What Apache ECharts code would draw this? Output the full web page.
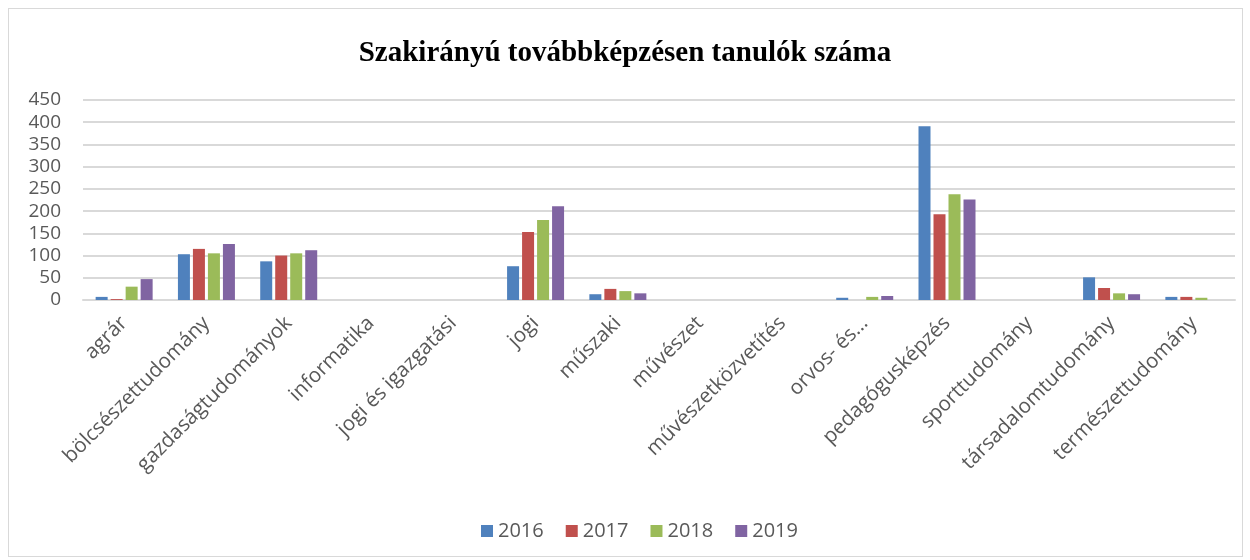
<!DOCTYPE html>
<html>
<head>
<meta charset="utf-8">
<script src="https://cdn.jsdelivr.net/npm/echarts@6/dist/echarts.min.js"></script>
<style>
  html, body { margin: 0; padding: 0; background: #fff; }
  #frame { position: absolute; left: 8px; top: 8px; width: 1233px; height: 547px; border: 1px solid #d9d9d9; }
  #chart { position: absolute; left: 0; top: 0; width: 1250px; height: 560px; }
</style>
</head>
<body>
<div id="frame"></div>
<div id="chart"></div>
<script>
// kategóriák
var categories = ['agrár', 'bölcsészettudomány', 'gazdaságtudományok', 'informatika', 'jogi és igazgatási',
    'jogi', 'műszaki', 'művészet', 'művészetközvetítés', 'orvos- és…', 'pedagógusképzés',
    'sporttudomány', 'társadalomtudomány', 'természettudomány'];
var years = ['2016', '2017', '2018', '2019'];
var y2016 = [7, 103, 87, 0, 0, 76, 13, 0, 0, 5, 391, 0, 51, 7];
var y2017 = [2, 115, 100, 0, 0, 153, 25, 0, 0, 0, 193, 0, 27, 7];
var y2018 = [30, 105, 105, 0, 0, 180, 20, 0, 0, 7, 238, 0, 15, 5];
var y2019 = [47, 126, 112, 0, 0, 211, 15, 0, 0, 9, 226, 0, 13, 0];
var colors = ['#4F81BD', '#C0504D', '#9BBB59', '#8064A2'];
var yTicks = [0, 50, 100, 150, 200, 250, 300, 350, 400, 450];

var chart = echarts.init(document.getElementById('chart'));
var allData = [y2016, y2017, y2018, y2019];
var series = [];
for (var i = 0; i < years.length; i++) {
    series.push({
        name: years[i],
        type: 'bar',
        data: allData[i],
        barWidth: 12,
        barGap: '25%',
        itemStyle: { color: colors[i] }
    });
}

var option = {
    animation: false,
    title: {
        text: 'Szakirányú továbbképzésen tanulók száma',
        left: 'center',
        top: 34,
        textStyle: { fontFamily: 'Liberation Serif', fontWeight: 'bold', fontSize: 29, color: '#000' }
    },
    legend: {
        data: years,
        bottom: 14,
        left: 476,
        itemWidth: 12,
        itemHeight: 12,
        itemGap: 22,
        icon: 'rect',
        textStyle: { fontFamily: 'Open Sans', fontSize: 20, color: '#595959' }
    },
    grid: { left: 83, right: 15, top: 100, bottom: 260 },
    xAxis: {
        type: 'category',
        data: categories,
        axisLine: { lineStyle: { color: '#d9d9d9', width: 2 } },
        axisTick: { show: false },
        axisLabel: {
            interval: 0,
            rotate: 45,
            margin: 20,
            fontFamily: 'Open Sans',
            fontSize: 20.5,
            color: '#595959'
        }
    },
    yAxis: {
        type: 'value',
        min: yTicks[0],
        max: yTicks[yTicks.length - 1],
        interval: 50,
        axisLine: { show: false },
        axisTick: { show: false },
        splitLine: { lineStyle: { color: '#d9d9d9', width: 2 } },
        axisLabel: { margin: 22, fontFamily: 'Open Sans', fontSize: 19, color: '#595959' }
    },
    series: series
};
chart.setOption(option);
</script>
</body>
</html>
